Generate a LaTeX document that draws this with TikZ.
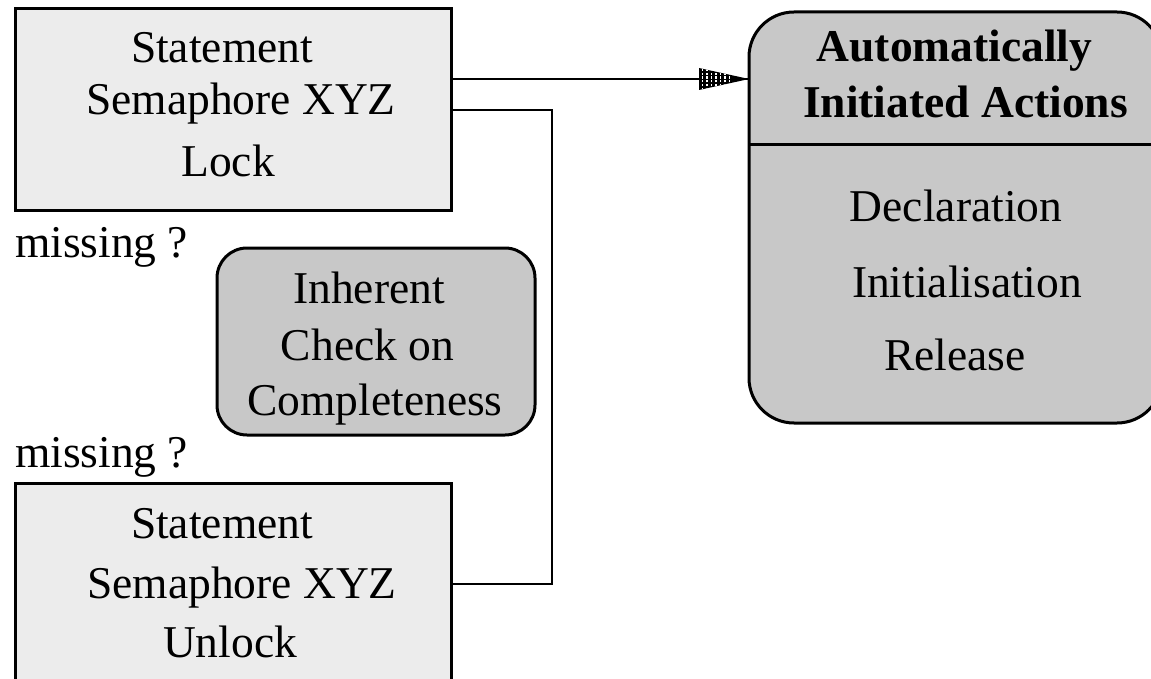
\documentclass[tikz,border=0pt]{standalone}
\usepackage{fontspec}
\setmainfont{Liberation Serif}
\begin{document}
\begin{tikzpicture}[x=1pt,y=-1pt,
  every node/.style={inner sep=0pt, outer sep=0pt},
  txt/.style={anchor=base, font=\fontsize{45.5}{52}\selectfont},
  btxt/.style={anchor=base, font=\fontsize{45.5}{52}\selectfont\bfseries},
  lefttxt/.style={anchor=base west, font=\fontsize{45.5}{52}\selectfont},
  stmtbox/.style={draw, line width=3pt, fill=lightfill, rectangle,
    minimum width=436pt, minimum height=202pt},
  roundbox/.style={draw, line width=3pt, fill=darkfill, rectangle},
  link/.style={line width=2.6pt}]
\definecolor{lightfill}{HTML}{ECECEC}
\definecolor{darkfill}{HTML}{C8C8C8}
\useasboundingbox (0,0) rectangle (1151,679);
\clip (0,0) rectangle (1151,679);

% boxes
\node[stmtbox] (lockbox) at (233,110) {};
\node[stmtbox] (unlockbox) at (233,584) {};
\node[roundbox, rounded corners=30pt, minimum width=318pt, minimum height=187pt]
  (check) at (376,341.5) {};
\node[roundbox, rounded corners=45pt, minimum width=413pt, minimum height=411pt]
  (auto) at (955.5,217.5) {};
\coordinate (divl) at (auto.west |- 0,145);
\coordinate (divr) at (auto.east |- 0,145);
\draw[line width=3pt] (divl) -- (divr);

% texts of the lock statement
\node[txt] (l1) at (222,63) {Statement};
\node[txt] (l2) at (241,115) {Semaphore XYZ};
\node[txt] (l3) at (228,177) {Lock};
% texts of the unlock statement
\node[txt] (u1) at (222,538) {Statement};
\node[txt] (u2) at (242,598) {Semaphore XYZ};
\node[txt] (u3) at (230,657) {Unlock};
% remarks
\node[lefttxt] (m1) at (15,258) {missing ?};
\node[lefttxt] (m2) at (15,467) {missing ?};
% completeness check
\node[txt] (c1) at (369,303) {Inherent};
\node[txt] (c2) at (367.5,360) {Check on};
\node[txt] (c3) at (375,415) {Completeness};
% automatic actions
\node[btxt] (a1) at (954.5,62) {Automatically};
\node[btxt] (a2) at (965.5,118) {Initiated Actions};
\node[txt] (a3) at (956,222) {Declaration};
\node[txt] (a4) at (967,297) {Initialisation};
\node[txt] (a5) at (955,370) {Release};

% connectors
\coordinate (arrstart) at ([yshift=31pt]lockbox.east);
\coordinate (arrend) at (auto.west |- arrstart);
\draw[link] (arrstart) -- (arrend);
\coordinate (bend) at ([xshift=101pt]lockbox.east);
\draw[link] (lockbox.east) -- (bend) |- (unlockbox.east);

% hatched arrow head
\begin{scope}
  \fill (arrend) -- ++(-50,11) -- ++(0,-22) -- cycle;
  \clip (arrend) -- ++(-50,11) -- ++(0,-22) -- cycle;
  \foreach \dx in {3.5,8,12.5,17,21.5,26,30.5} {
    \draw[white, line width=1.4pt, dash pattern=on 2.2pt off 1.6pt]
      ([xshift=-50pt+\dx pt, yshift=-11pt]arrend) -- ++(0,-22);
  }
\end{scope}
\end{tikzpicture}
\end{document}
